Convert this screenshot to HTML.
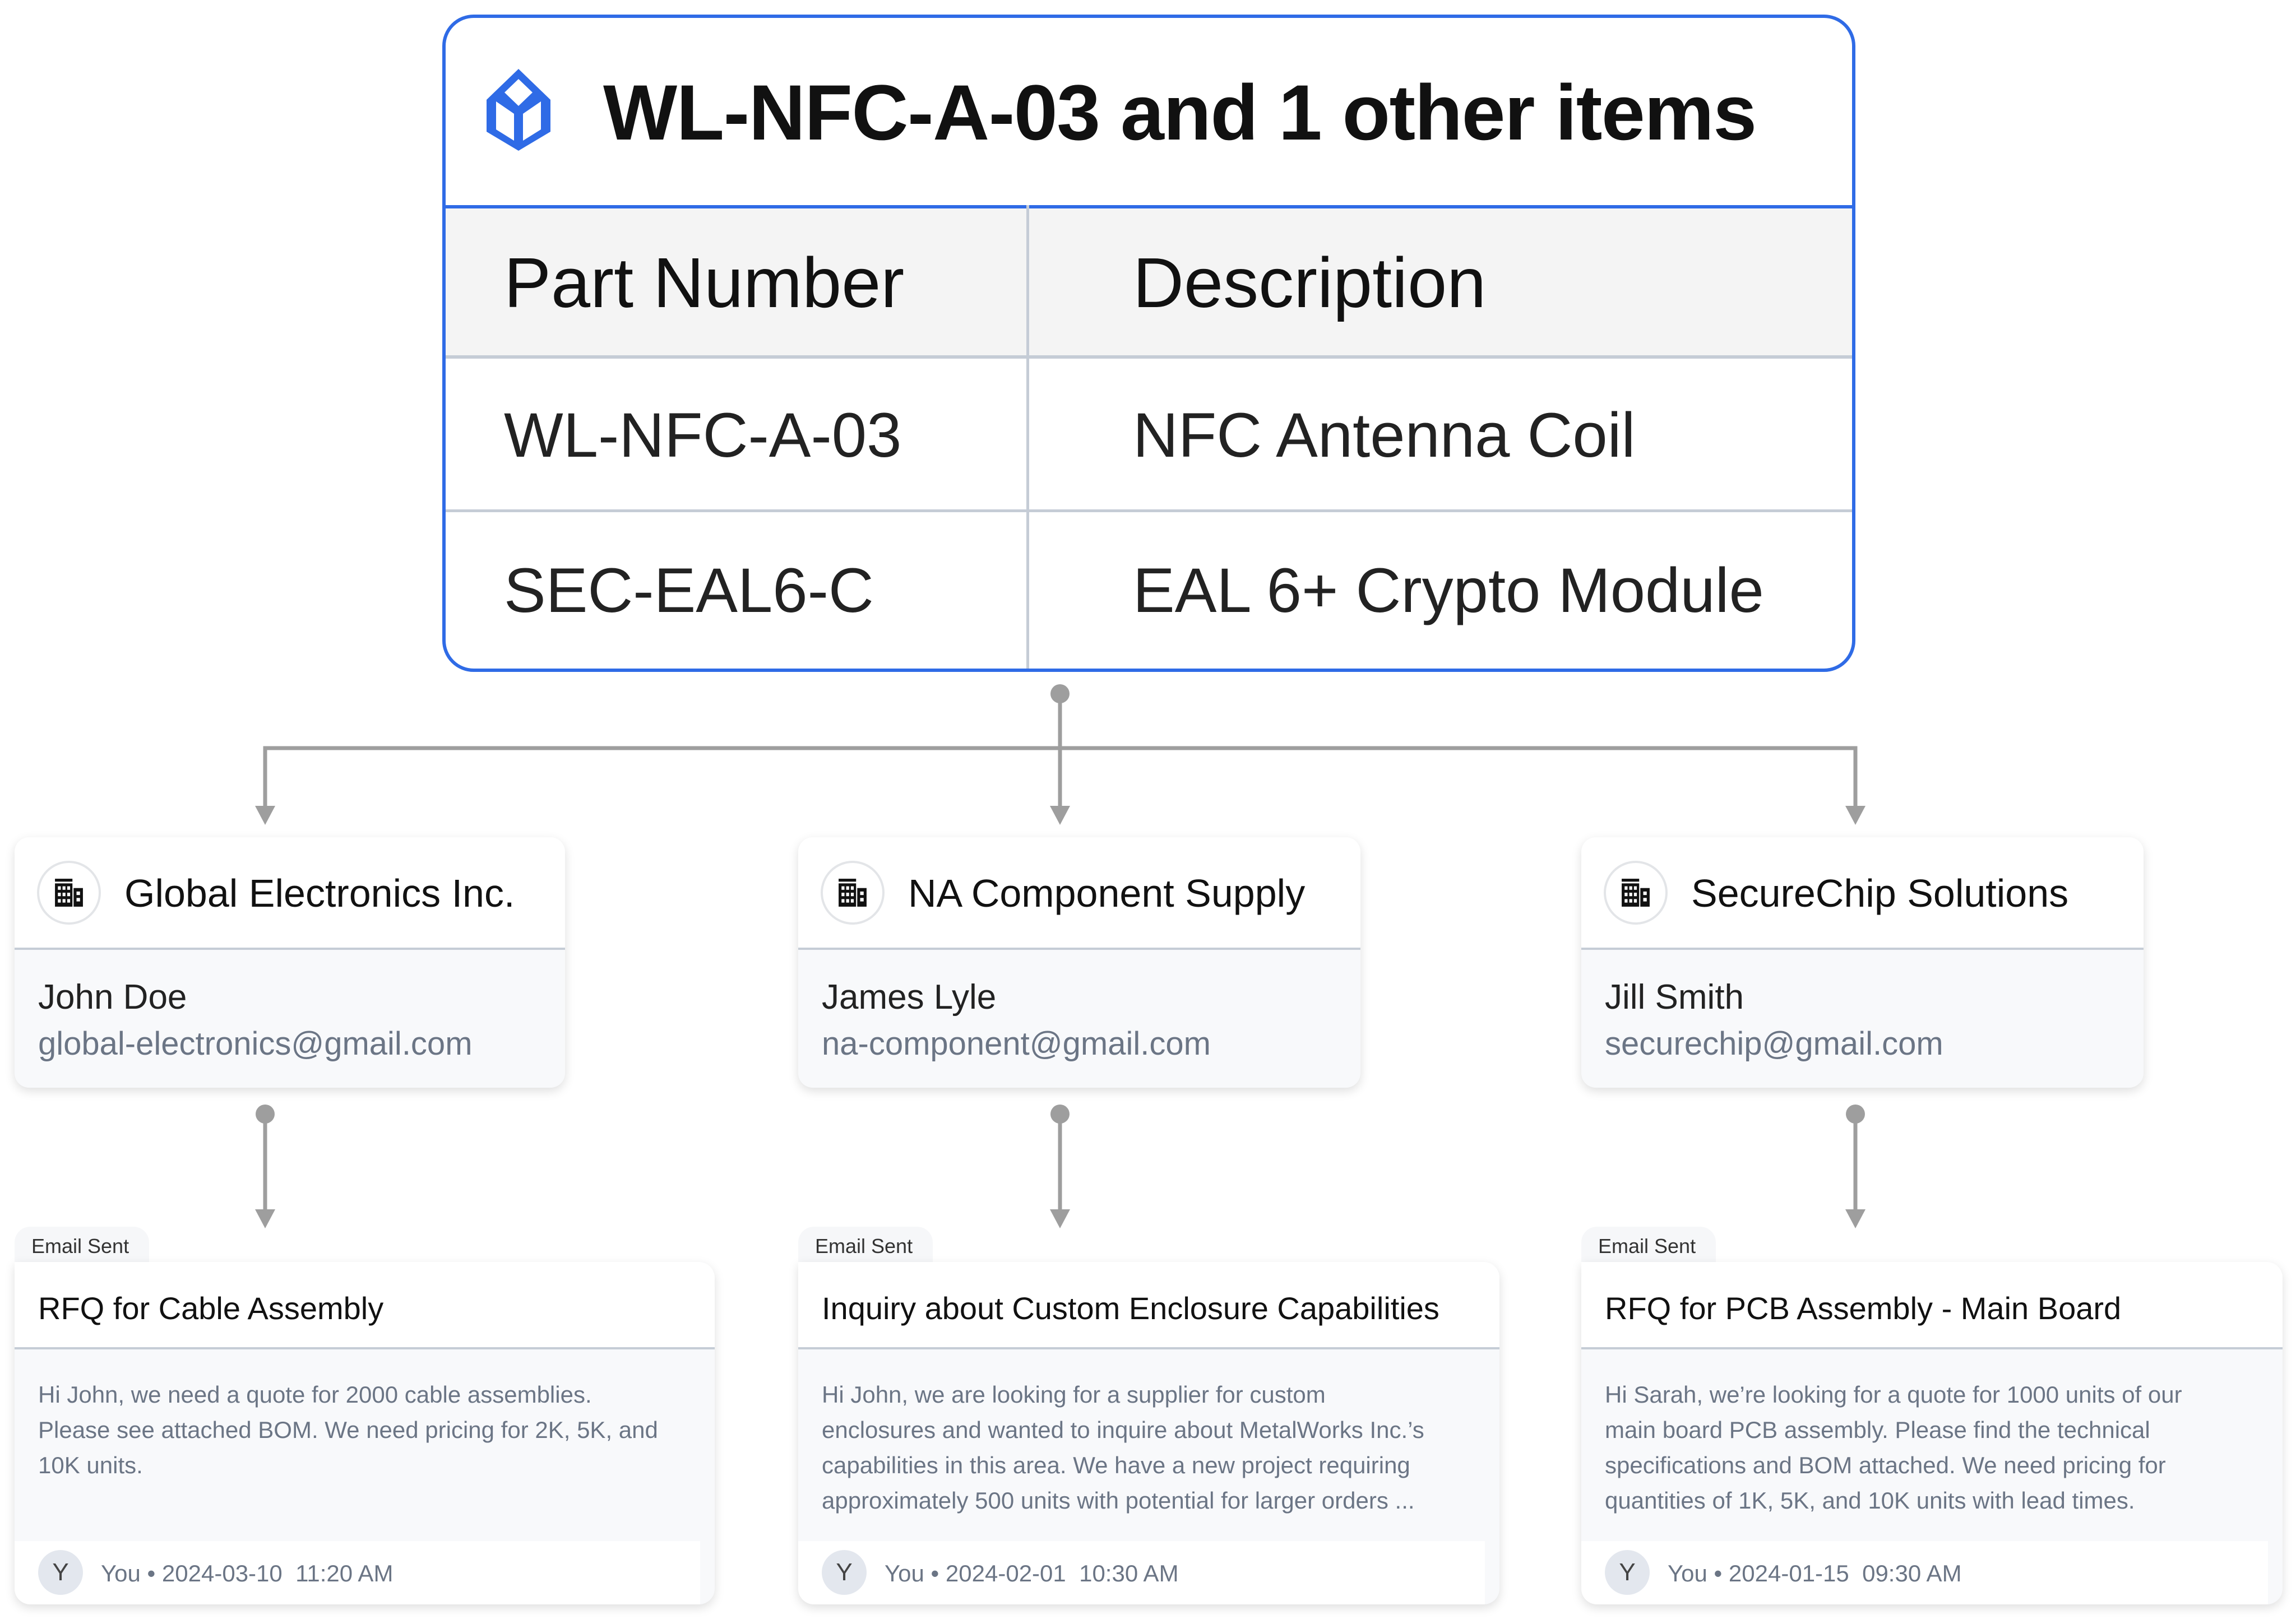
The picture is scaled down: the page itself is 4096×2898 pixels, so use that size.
<!DOCTYPE html>
<html><head><meta charset="utf-8"><style>
*{margin:0;padding:0;box-sizing:border-box}
body{width:4096px;height:2898px;background:#fff;position:relative;overflow:hidden;font-family:"Liberation Sans",sans-serif;color:#111}
.abs{position:absolute}
.top{left:789px;top:26px;width:2521px;height:1173px;border:6px solid #2f6be6;border-radius:56px;overflow:hidden;background:#fff}
.sup{border-radius:26px;background:#f8f9fb;box-shadow:0 6px 18px rgba(0,0,0,.13);overflow:hidden}
.sup .hd{height:201px;background:#fff;border-bottom:4px solid #c5ccd6;position:relative}
.ic{position:absolute;left:40px;top:42px;width:114px;height:114px;border:4px solid #e3e5e8;border-radius:50%;display:flex;align-items:center;justify-content:center}
.sup .t{position:absolute;left:196px;top:60px;font-size:70px;font-weight:500;white-space:nowrap}
.sup .n{position:absolute;left:42px;top:250px;font-size:62px;color:#222}
.sup .e{position:absolute;left:42px;top:335px;font-size:58px;color:#6b7585}
.tab{height:63px;width:240px;background:#f6f7f9;border-radius:28px 28px 0 0;font-size:36px;color:#333;padding:14px 0 0 30px}
.em{border-radius:0 28px 28px 28px;background:#f8f9fb;box-shadow:0 6px 18px rgba(0,0,0,.13);overflow:hidden}
.em .hd{height:156px;background:#fff;border-bottom:4px solid #c5ccd6;font-size:56px;font-weight:500;padding:50px 0 0 42px;white-space:nowrap}
.em .b{position:absolute;left:42px;top:205px;font-size:42px;line-height:63px;color:#6b7585;white-space:nowrap}
.em .f{position:absolute;left:0;bottom:0;height:113px;background:#fff}
.av{position:absolute;left:42px;top:16px;width:80px;height:80px;border-radius:50%;background:#e3e7ee;color:#444;font-size:44px;text-align:center;line-height:80px}
.em .ft{position:absolute;left:154px;top:34px;font-size:42px;color:#6b7585;white-space:nowrap}
</style></head><body>

<svg width="0" height="0" style="position:absolute"><defs>
<symbol id="bld" viewBox="0 0 52 48">
<rect x="2" y="0" width="30" height="5" fill="#111"/>
<rect x="2" y="8" width="30" height="40" fill="#111"/>
<rect x="34" y="16" width="16" height="32" fill="#111"/>
<g fill="#fff">
<rect x="7" y="13" width="5" height="6"/><rect x="15" y="13" width="5" height="6"/><rect x="23" y="13" width="5" height="6"/>
<rect x="7" y="24" width="5" height="6"/><rect x="15" y="24" width="5" height="6"/><rect x="23" y="24" width="5" height="6"/>
<rect x="7" y="35" width="5" height="6"/><rect x="15" y="35" width="5" height="6"/><rect x="23" y="35" width="5" height="6"/>
<rect x="39" y="22" width="6" height="6"/><rect x="39" y="33" width="6" height="6"/>
</g></symbol></defs></svg>

<div class="abs top">
  <svg class="abs" style="left:67px;top:91px" width="126" height="146" viewBox="0 0 126 146">
    <path d="M63 0 L120 55 L120 112 L63 146 L6 112 L6 55 Z M63 18 L38 42 L63 66 L88 42 Z M23 58 L23 108 L55 128 L55 80 Z M103 58 L71 80 L71 128 L103 108 Z" fill="#2f6be6" fill-rule="evenodd"/>
  </svg>
  <div class="abs" style="left:281px;top:88px;font-size:140px;font-weight:bold;white-space:nowrap;letter-spacing:-1.5px">WL-NFC-A-03 and 1 other items</div>
  <div class="abs" style="left:0;top:334px;width:2521px;height:274px;background:#f4f4f4;border-top:6px solid #2f6be6;border-bottom:6px solid #c5ccd6"></div>
  <div class="abs" style="left:0;top:877px;width:2521px;height:5px;background:#c5ccd6"></div>
  <div class="abs" style="left:1036px;top:334px;width:5px;height:900px;background:#c5ccd6"></div>
  <div class="abs" style="left:104px;top:400px;font-size:126px;font-weight:500;white-space:nowrap">Part Number</div>
  <div class="abs" style="left:1226px;top:400px;font-size:126px;font-weight:500;white-space:nowrap">Description</div>
  <div class="abs" style="left:104px;top:680px;font-size:112px;color:#222;white-space:nowrap">WL-NFC-A-03</div>
  <div class="abs" style="left:1226px;top:680px;font-size:112px;color:#222;white-space:nowrap">NFC Antenna Coil</div>
  <div class="abs" style="left:104px;top:957px;font-size:112px;color:#222;white-space:nowrap">SEC-EAL6-C</div>
  <div class="abs" style="left:1226px;top:957px;font-size:112px;color:#222;white-space:nowrap">EAL 6+ Crypto Module</div>
</div>

<svg class="abs" style="left:0;top:0" width="4096" height="2898">
  <g stroke="#9e9e9e" stroke-width="7" fill="none">
    <path d="M1891 1238 V1445 M473 1445 V1335 H3310 V1445"/>
    <path d="M473 1988 V2164 M1891 1988 V2164 M3310 1988 V2164"/>
  </g>
  <g fill="#9e9e9e">
    <circle cx="1891" cy="1238" r="17"/>
    <circle cx="473" cy="1988" r="17"/><circle cx="1891" cy="1988" r="17"/><circle cx="3310" cy="1988" r="17"/>
    <path d="M455 1438 h36 l-18 34z"/><path d="M1873 1438 h36 l-18 34z"/><path d="M3292 1438 h36 l-18 34z"/>
    <path d="M455 2158 h36 l-18 34z"/><path d="M1873 2158 h36 l-18 34z"/><path d="M3292 2158 h36 l-18 34z"/>
  </g>
</svg>

<div class="abs sup" style="left:26px;top:1494px;width:982px;height:447px">
  <div class="hd"><div class="ic"><svg width="54" height="50"><use href="#bld"/></svg></div><div class="t">Global Electronics Inc.</div></div>
  <div class="n">John Doe</div><div class="e">global-electronics@gmail.com</div>
</div>
<div class="abs sup" style="left:1424px;top:1494px;width:1003px;height:447px">
  <div class="hd"><div class="ic"><svg width="54" height="50"><use href="#bld"/></svg></div><div class="t">NA Component Supply</div></div>
  <div class="n">James Lyle</div><div class="e">na-component@gmail.com</div>
</div>
<div class="abs sup" style="left:2821px;top:1494px;width:1003px;height:447px">
  <div class="hd"><div class="ic"><svg width="54" height="50"><use href="#bld"/></svg></div><div class="t">SecureChip Solutions</div></div>
  <div class="n">Jill Smith</div><div class="e">securechip@gmail.com</div>
</div>

<div class="abs tab" style="left:26px;top:2189px">Email Sent</div>
<div class="abs em" style="left:26px;top:2252px;width:1249px;height:611px">
  <div class="hd">RFQ for Cable Assembly</div>
  <div class="b">Hi John, we need a quote for 2000 cable assemblies.<br>Please see attached BOM. We need pricing for 2K, 5K, and<br>10K units.</div>
  <div class="f" style="width:1223px"><div class="av">Y</div><div class="ft">You • 2024-03-10&nbsp; 11:20 AM</div></div>
</div>

<div class="abs tab" style="left:1424px;top:2189px">Email Sent</div>
<div class="abs em" style="left:1424px;top:2252px;width:1251px;height:611px">
  <div class="hd">Inquiry about Custom Enclosure Capabilities</div>
  <div class="b">Hi John, we are looking for a supplier for custom<br>enclosures and wanted to inquire about MetalWorks Inc.’s<br>capabilities in this area. We have a new project requiring<br>approximately 500 units with potential for larger orders ...</div>
  <div class="f" style="width:1225px"><div class="av">Y</div><div class="ft">You • 2024-02-01&nbsp; 10:30 AM</div></div>
</div>

<div class="abs tab" style="left:2821px;top:2189px">Email Sent</div>
<div class="abs em" style="left:2821px;top:2252px;width:1251px;height:611px">
  <div class="hd">RFQ for PCB Assembly - Main Board</div>
  <div class="b">Hi Sarah, we’re looking for a quote for 1000 units of our<br>main board PCB assembly. Please find the technical<br>specifications and BOM attached. We need pricing for<br>quantities of 1K, 5K, and 10K units with lead times.</div>
  <div class="f" style="width:1225px"><div class="av">Y</div><div class="ft">You • 2024-01-15&nbsp; 09:30 AM</div></div>
</div>

</body></html>
